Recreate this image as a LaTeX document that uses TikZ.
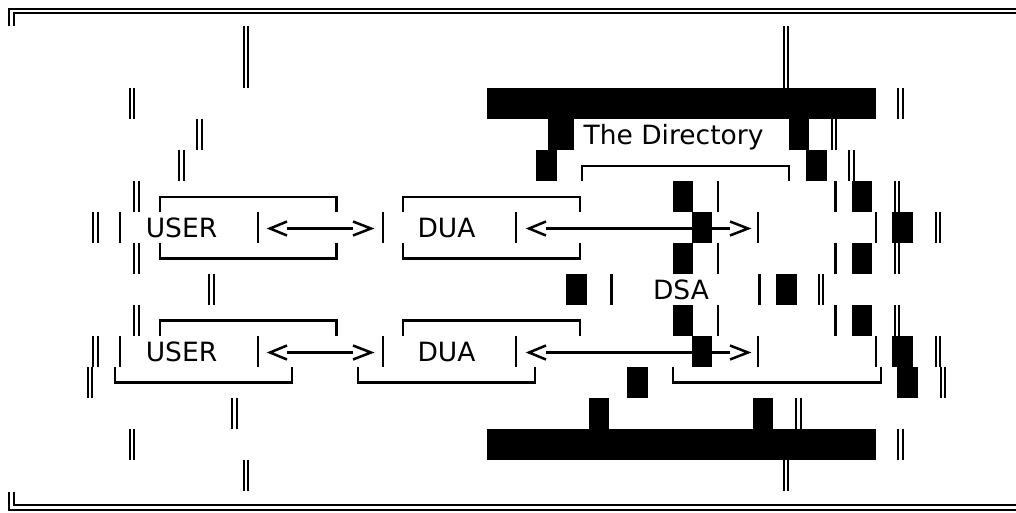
\documentclass[tikz,border=0pt]{standalone}
\usepackage{fontspec}
\setmainfont{DejaVu Sans}
\tikzset{
  lbl/.style={inner sep=0pt, font=\fontsize{26.5}{31}\selectfont, anchor=base},
  dbl/.style={line width=2pt},
  sgl/.style={line width=2.2pt},
  boxline/.style={line width=2.4pt},
  conn/.style={line width=2.1pt},
  chev/.style={line width=2.5pt, line join=miter},
  frameline/.style={line width=2pt},
}
% double bar: centre x, row number
\newcommand\mydbr[2]{\draw[dbl] (#1-2.2,31*#2-5) -- (#1-2.2,31*#2+26) (#1+2.2,31*#2-5) -- (#1+2.2,31*#2+26);}
% single bar: x, row number
\newcommand\mysbr[2]{\draw[sgl] (#1,31*#2-5) -- (#1,31*#2+26);}
% block: x from, x to, row number
\newcommand\myblk[3]{\fill[black] (#1,31*#3-5) rectangle (#2,31*#3+26);}
\begin{document}
\begin{tikzpicture}[x=1pt, y=-1pt]
\useasboundingbox (0,0) rectangle (1016,512);
% outer frame
\draw[frameline] (9,26) -- (9,9) -- (1016,9);
\draw[frameline] (14,26) -- (14,13) -- (1016,13);
\draw[frameline] (9,492) -- (9,509.5) -- (1016,509.5);
\draw[frameline] (14,492) -- (14,505) -- (1016,505);
% double bars
\mydbr{246}{1}\mydbr{246}{2}\mydbr{786}{1}\mydbr{786}{2}
\mydbr{132}{3}\mydbr{900.5}{3}
\mydbr{199.5}{4}\mydbr{834}{4}
\mydbr{181.5}{5}\mydbr{851.5}{5}
\mydbr{136.5}{6}\mydbr{897}{6}
\mydbr{95.5}{7}\mydbr{938}{7}
\mydbr{136.5}{8}\mydbr{897}{8}
\mydbr{211.5}{9}\mydbr{821}{9}
\mydbr{136.5}{10}\mydbr{897}{10}
\mydbr{95.5}{11}\mydbr{938}{11}
\mydbr{90}{12}\mydbr{943}{12}
\mydbr{234.5}{13}\mydbr{798.5}{13}
\mydbr{132}{14}\mydbr{900.5}{14}
\mydbr{246}{15}\mydbr{786}{15}
% single bars
\mysbr{718}{6}\mysbr{835.5}{6}
\mysbr{120}{7}\mysbr{258}{7}\mysbr{383}{7}\mysbr{516}{7}\mysbr{758}{7}\mysbr{876}{7}
\mysbr{718}{8}\mysbr{835.5}{8}
\mysbr{611.5}{9}\mysbr{759.5}{9}
\mysbr{718}{10}\mysbr{835.5}{10}
\mysbr{120}{11}\mysbr{258}{11}\mysbr{383}{11}\mysbr{516}{11}\mysbr{758}{11}\mysbr{876}{11}
% box corners
\draw[boxline] (582,181) -- (582,166) -- (789,166) -- (789,181);
\draw[boxline] (160,212) -- (160,197) -- (336.5,197) -- (336.5,212);
\draw[boxline] (403,212) -- (403,197) -- (580,197) -- (580,212);
\draw[boxline] (160,243) -- (160,258.5) -- (336.5,258.5) -- (336.5,243);
\draw[boxline] (403,243) -- (403,258.5) -- (580,258.5) -- (580,243);
\draw[boxline] (160,336) -- (160,320.5) -- (336.5,320.5) -- (336.5,336);
\draw[boxline] (403,336) -- (403,320.5) -- (580,320.5) -- (580,336);
\draw[boxline] (115,367) -- (115,382.5) -- (292,382.5) -- (292,367);
\draw[boxline] (358,367) -- (358,382.5) -- (535,382.5) -- (535,367);
\draw[boxline] (673,367) -- (673,382.5) -- (881,382.5) -- (881,367);
% labels
\node[lbl] (dir) at (673.5,144) {The Directory};
\node[lbl] (user1) at (181.5,237) {USER};
\node[lbl] (dua1) at (446.5,237) {DUA};
\node[lbl] (dsa) at (681,299) {DSA};
\node[lbl] (user2) at (181.5,361) {USER};
\node[lbl] (dua2) at (446.5,361) {DUA};
% connector end points
\coordinate (a1l) at (287,228.5); \coordinate (a1r) at (353,228.5);
\coordinate (b1l) at (546,228.5); \coordinate (b1r) at (730,228.5);
\coordinate (a2l) at (287,352.5); \coordinate (a2r) at (353,352.5);
\coordinate (b2l) at (546,352.5); \coordinate (b2r) at (730,352.5);
\foreach \l/\r in {a1l/a1r, b1l/b1r, a2l/a2r, b2l/b2r}{
  \draw[conn] (\l) -- (\r);
  \draw[chev] (\l) ++(0,-7) -- ++(-17,7) -- ++(17,7);
  \draw[chev] (\r) ++(0,-7) -- ++(18,7) -- ++(-18,7);
}
% blocks
\myblk{487}{876}{3}
\myblk{548}{574}{4}\myblk{789}{809}{4}
\myblk{536}{557}{5}\myblk{806}{827}{5}
\myblk{673}{693}{6}\myblk{852}{872}{6}
\myblk{692}{712}{7}\myblk{892}{913}{7}
\myblk{673}{693}{8}\myblk{852}{872}{8}
\myblk{566}{587}{9}\myblk{776}{797}{9}
\myblk{673}{693}{10}\myblk{852}{872}{10}
\myblk{692}{712}{11}\myblk{892}{913}{11}
\myblk{627}{648}{12}\myblk{897}{918}{12}
\myblk{589}{609}{13}\myblk{753}{773}{13}
\myblk{487}{876}{14}
\end{tikzpicture}
\end{document}
